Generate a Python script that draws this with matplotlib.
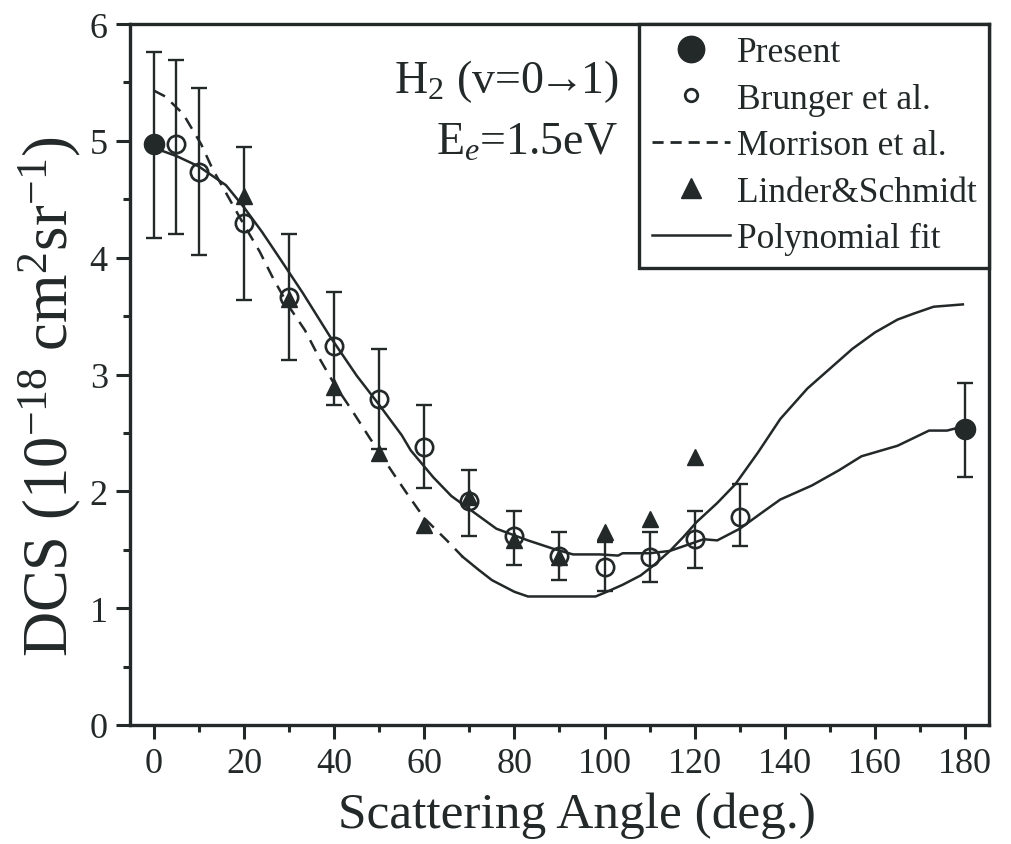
import matplotlib
matplotlib.use("Agg")
import matplotlib.pyplot as plt
from matplotlib.lines import Line2D
import numpy as np

plt.rcParams['font.family'] = ['Liberation Serif', 'DejaVu Serif']
plt.rcParams['mathtext.fontset'] = 'custom'
plt.rcParams['mathtext.rm'] = 'Liberation Serif'
plt.rcParams['mathtext.it'] = 'Liberation Serif:italic'
plt.rcParams['mathtext.default'] = 'regular'

INK = '#232829'

# ---- data ----
present_angle = [0, 180]
present_dcs = [4.97, 2.53]
present_lo = [4.17, 2.12]
present_hi = [5.76, 2.93]

brunger_angle = [5, 10, 20, 30, 40, 50, 60, 70, 80, 90, 100, 110, 120, 130]
brunger_dcs = [4.97, 4.73, 4.30, 3.66, 3.24, 2.79, 2.38, 1.92, 1.62, 1.45, 1.35, 1.44, 1.59, 1.78]
brunger_lo = [4.20, 4.02, 3.64, 3.12, 2.74, 2.36, 2.03, 1.62, 1.37, 1.24, 1.15, 1.22, 1.34, 1.53]
brunger_hi = [5.69, 5.45, 4.95, 4.20, 3.71, 3.22, 2.74, 2.18, 1.83, 1.65, 1.57, 1.65, 1.83, 2.06]

linder_angle = [20, 30, 40, 50, 60, 70, 80, 90, 100, 110, 120]
linder_dcs = [4.53, 3.65, 2.89, 2.33, 1.71, 1.95, 1.58, 1.44, 1.65, 1.76, 2.29]

morrison_angle = [0, 2.5, 6.5, 10.5, 13, 16.5, 20, 23.5, 26.5, 30, 33.5, 37, 40, 44, 48, 53,
                  56, 60, 65, 68.5, 72, 75, 80, 83, 98, 100.5, 104, 108, 111, 114.5, 117.5,
                  120.5, 125, 129, 134, 139, 145, 150, 155, 160, 165, 168.5, 173, 179.5]
morrison_dcs = [5.43, 5.38, 5.23, 4.97, 4.76, 4.52, 4.28, 4.05, 3.82, 3.58, 3.38, 3.12, 2.92,
                2.69, 2.45, 2.16, 1.99, 1.77, 1.58, 1.44, 1.33, 1.24, 1.14, 1.10, 1.10, 1.14,
                1.20, 1.28, 1.37, 1.49, 1.61, 1.74, 1.90, 2.06, 2.33, 2.62, 2.88, 3.05, 3.22,
                3.36, 3.47, 3.52, 3.58, 3.60]
morrison_dash_end = 19  # index where the dashed rendering turns solid

poly_angle = [0, 5, 10, 16, 20, 24, 28, 33, 39, 45, 50, 55, 57, 62, 66, 71, 76, 83, 88.5, 93,
              99, 103, 104, 110, 114.5, 117.5, 122, 125, 130, 135, 139, 146, 152, 157, 165,
              172, 176, 180]
poly_dcs = [4.94, 4.87, 4.78, 4.62, 4.43, 4.22, 3.99, 3.70, 3.33, 2.99, 2.74, 2.48, 2.35, 2.12,
            1.96, 1.82, 1.68, 1.58, 1.51, 1.46, 1.46, 1.45, 1.47, 1.47, 1.49, 1.53, 1.59, 1.58,
            1.68, 1.82, 1.93, 2.05, 2.18, 2.30, 2.39, 2.52, 2.52, 2.56]

legend_labels = ['Present', 'Brunger et al.', 'Morrison et al.', 'Linder&Schmidt', 'Polynomial fit']

# ---- figure ----
fig = plt.figure(figsize=(10.12, 8.45), dpi=100)
ax = fig.add_axes([130/1012, (845-726)/845, (989-130)/1012, (726-25)/845])

lw = 1.8
# Morrison
ax.plot(morrison_angle[:morrison_dash_end+1], morrison_dcs[:morrison_dash_end+1], color=INK,
        lw=lw, dashes=(5, 3.5), zorder=2)
ax.plot(morrison_angle[morrison_dash_end:], morrison_dcs[morrison_dash_end:], color=INK,
        lw=lw, zorder=2)
# Polynomial fit
ax.plot(poly_angle, poly_dcs, color=INK, lw=lw, zorder=2)

# error bars
def yerr(v, lo, hi):
    v = np.array(v); return [v - np.array(lo), np.array(hi) - v]

ax.errorbar(brunger_angle, brunger_dcs, yerr=yerr(brunger_dcs, brunger_lo, brunger_hi),
            fmt='none', ecolor=INK, elinewidth=1.7, capsize=6, capthick=1.7, zorder=3)
ax.errorbar(present_angle, present_dcs, yerr=yerr(present_dcs, present_lo, present_hi),
            fmt='none', ecolor=INK, elinewidth=1.7, capsize=6, capthick=1.7, zorder=3)

ax.plot(brunger_angle, brunger_dcs, 'o', ms=12.5, mfc='none', mec=INK, mew=1.9, zorder=4)
ax.plot(present_angle, present_dcs, 'o', ms=14.5, mfc=INK, mec=INK, zorder=5)
ax.plot(linder_angle, linder_dcs, '^', ms=12, mfc=INK, mec=INK, zorder=5)

ax.set_xlim(-5.3, 185.3)
ax.set_ylim(0, 6)
ax.set_xticks(np.arange(0, 181, 20))
ax.set_xticks(np.arange(10, 181, 20), minor=True)
ax.set_yticks(np.arange(0, 6.1, 1))
ax.set_yticks(np.arange(0.5, 6, 1), minor=True)
ax.tick_params(which='both', direction='out', color=INK, width=2.2, labelcolor=INK,
               labelsize=26, top=False, right=False)
ax.tick_params(which='major', length=10, pad=6)
ax.tick_params(which='minor', length=5)
for s in ax.spines.values():
    s.set_linewidth(2.4)
    s.set_color(INK)

ax.set_xlabel('Scattering Angle (deg.)', fontsize=37, color=INK, labelpad=8)
ax.set_ylabel('DCS (10$^{-18}$ cm$^2$sr$^{-1}$)', fontsize=45, color=INK, labelpad=5)
ax.xaxis.label.set_x(0.520)
ax.yaxis.label.set_y(0.469)

ax.text(0.568, 0.903, 'H$_2$ (v=0$\\!\\!\\rightarrow\\!\\!$1)', transform=ax.transAxes, ha='right',
        va='baseline', fontsize=33, color=INK)
ax.text(0.568, 0.815, 'E$_{\\mathit{e}}$=1.5eV', transform=ax.transAxes, ha='right',
        va='baseline', fontsize=33, color=INK)

handles = [
    Line2D([], [], ls='none', marker='o', ms=19, mfc=INK, mec=INK),
    Line2D([], [], ls='none', marker='o', ms=9, mfc='none', mec=INK, mew=2),
    Line2D([], [], color=INK, lw=2, dashes=(4, 2.5)),
    Line2D([], [], ls='none', marker='^', ms=14, mfc=INK, mec=INK),
    Line2D([], [], color=INK, lw=1.8),
]
leg = ax.legend(handles, legend_labels, loc='upper right', bbox_to_anchor=(1.0, 1.0),
                fontsize=25.5, frameon=True, fancybox=False, edgecolor=INK, framealpha=1,
                borderaxespad=0, borderpad=0.35, handlelength=2.2, handletextpad=0.2,
                labelspacing=0.38, labelcolor=INK)
leg.get_frame().set_linewidth(2.4)

fig.savefig('out.png', dpi=100, facecolor='white')
